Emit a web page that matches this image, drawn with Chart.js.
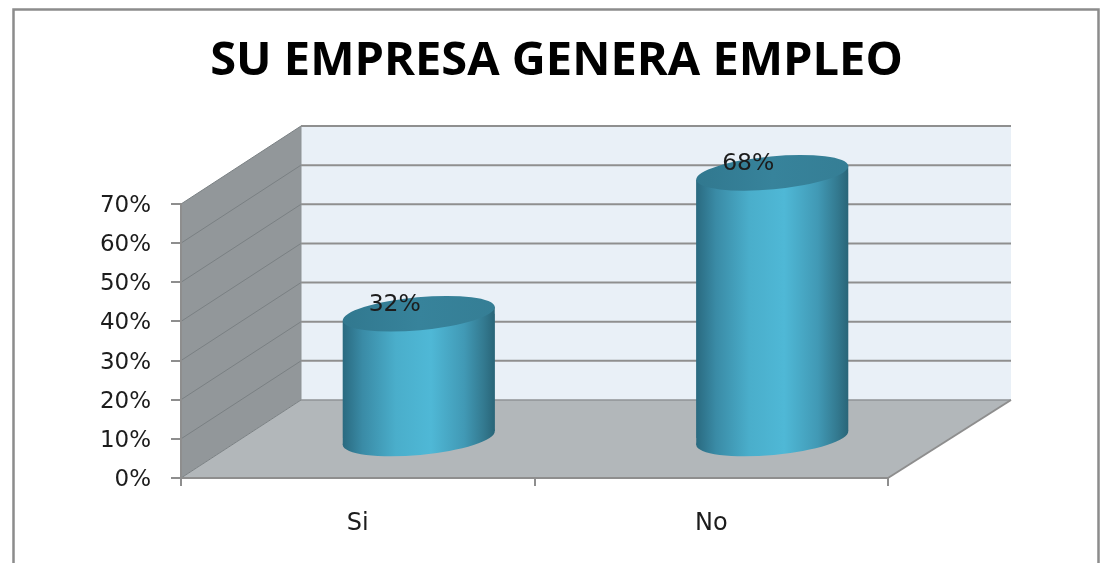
<!DOCTYPE html>
<html>
<head>
<meta charset="utf-8">
<style>html,body{margin:0;padding:0;background:#fff}#w{width:1103px;height:563px}</style>
<script src="https://cdn.jsdelivr.net/npm/chart.js@4"></script>
</head>
<body>
<div id="w"><canvas id="c" width="1103" height="563"></canvas></div>
<script>
const categories = ['Si', 'No'];
const values = [32, 68];
const chartTitle = 'SU EMPRESA GENERA EMPLEO';

const DEPTH_X = 120, DEPTH_X_R = 123, DEPTH_Y = -78;   // 3D box depth
const BAR_DX = 61, BAR_DY = -39;                       // cylinders sit mid-depth
const TILT = Math.atan2(14, 152);
const SEMI_B = 16.5;
const FONT = '"DejaVu Sans"';

function bodyGradient(ctx, x, w) {
  const g = ctx.createLinearGradient(x - w / 2, 0, x + w / 2, 0);
  g.addColorStop(0, '#2a6a80');
  g.addColorStop(0.13, '#3a8ba6');
  g.addColorStop(0.35, '#4aaecb');
  g.addColorStop(0.58, '#4fb8d6');
  g.addColorStop(0.8, '#4199b5');
  g.addColorStop(0.93, '#33798f');
  g.addColorStop(1, '#296578');
  return g;
}
function ellipse(ctx, x, y, w, b) {
  ctx.beginPath();
  ctx.ellipse(x, y, (w / 2) / Math.cos(TILT), b, -TILT, 0, Math.PI * 2);
}
function poly(ctx, pts, fill) {
  ctx.beginPath();
  pts.forEach((p, i) => i ? ctx.lineTo(p[0], p[1]) : ctx.moveTo(p[0], p[1]));
  ctx.closePath();
  ctx.fillStyle = fill;
  ctx.fill();
}
function line(ctx, x1, y1, x2, y2, color, w) {
  ctx.beginPath();
  ctx.moveTo(x1, y1);
  ctx.lineTo(x2, y2);
  ctx.strokeStyle = color;
  ctx.lineWidth = w;
  ctx.stroke();
}
function silhouette(ctx, b) {
  const l = b.x - b.width / 2, r = b.x + b.width / 2;
  const t = Math.tan(TILT) * b.width / 2;
  ctx.moveTo(l, b.y + t);
  ctx.lineTo(r, b.y - t);
  ctx.lineTo(r, b.base - t);
  ctx.lineTo(l, b.base + t);
  ctx.closePath();
}

const box3d = {
  id: 'box3d',
  beforeDraw(chart) {
    const { ctx, chartArea: a, scales: { y } } = chart;
    const dx = DEPTH_X, rx = DEPTH_X_R, dy = DEPTH_Y;
    ctx.save();
    // frame
    ctx.strokeStyle = '#8c8c8c';
    ctx.lineWidth = 2.5;
    ctx.beginPath();
    ctx.moveTo(13.5, 570);
    ctx.lineTo(13.5, 9.5);
    ctx.lineTo(1098.5, 9.5);
    ctx.lineTo(1098.5, 570);
    ctx.stroke();
    // back wall
    poly(ctx, [[a.left + dx, a.top + dy], [a.right + rx, a.top + dy], [a.right + rx, a.bottom + dy], [a.left + dx, a.bottom + dy]], '#e9f0f7');
    // side wall
    poly(ctx, [[a.left, a.top], [a.left + dx, a.top + dy], [a.left + dx, a.bottom + dy], [a.left, a.bottom]], '#92979a');
    // floor
    poly(ctx, [[a.left, a.bottom], [a.left + dx, a.bottom + dy], [a.right + rx, a.bottom + dy], [a.right, a.bottom]], '#b2b7ba');
    // grid on walls
    y.ticks.forEach(t => {
      const py = y.getPixelForValue(t.value);
      line(ctx, a.left, py, a.left + dx, py + dy, '#7a8083', 1);
      if (t.value > 0) line(ctx, a.left + dx, py + dy, a.right + rx, py + dy, '#8f8f8f', 2);
    });
    line(ctx, a.left + dx, a.bottom + dy, a.right + rx, a.bottom + dy, '#8f9396', 1.5);
    line(ctx, a.left + dx, a.top + dy, a.left + dx, a.bottom + dy, '#8f9396', 1);
    line(ctx, a.right, a.bottom, a.right + rx, a.bottom + dy, '#8e8e8e', 2);
    ctx.restore();
  },
  beforeDatasetDraw(chart, args) {
    const { ctx } = chart;
    const bars = chart.getDatasetMeta(args.index).data;
    ctx.save();
    ctx.translate(BAR_DX, BAR_DY);
    bars.forEach(b => {
      const g = bodyGradient(ctx, b.x, b.width);
      // rounded bottom
      ellipse(ctx, b.x, b.base, b.width, SEMI_B + 0.5);
      ctx.fillStyle = g;
      ctx.fill();
      // the wedges the tilted rim leaves outside the upright bar
      ctx.beginPath();
      silhouette(ctx, b);
      ctx.fillStyle = g;
      ctx.fill();
    });
    ctx.beginPath();
    bars.forEach(b => silhouette(ctx, b));
    ctx.clip();
  },
  afterDatasetDraw(chart, args) {
    const { ctx } = chart;
    ctx.restore();
    const bars = chart.getDatasetMeta(args.index).data;
    ctx.save();
    ctx.translate(BAR_DX, BAR_DY);
    bars.forEach(b => {
      ellipse(ctx, b.x, b.y, b.width, SEMI_B);
      const g = ctx.createLinearGradient(b.x - b.width / 2, 0, b.x + b.width / 2, 0);
      g.addColorStop(0, '#31788f');
      g.addColorStop(0.5, '#37839b');
      g.addColorStop(1, '#357e95');
      ctx.fillStyle = g;
      ctx.fill();
    });
    ctx.restore();
  },
  afterDatasetsDraw(chart) {
    const { ctx } = chart;
    const bars = chart.getDatasetMeta(0).data;
    ctx.save();
    ctx.font = '23.5px ' + FONT;
    ctx.fillStyle = '#1c1c1c';
    ctx.textAlign = 'center';
    ctx.textBaseline = 'middle';
    bars.forEach((b, i) => {
      ctx.fillText(values[i] + '%', b.x + BAR_DX - 24, b.y + BAR_DY - 9);
    });
    ctx.restore();
  }
};

new Chart(document.getElementById('c'), {
  type: 'bar',
  data: {
    labels: categories,
    datasets: [{
      data: values,
      clip: false,
      barPercentage: 0.43,
      categoryPercentage: 1,
      borderWidth: 0,
      backgroundColor(c) {
        const ch = c.chart;
        const sx = ch.scales.x;
        if (!sx || c.dataIndex === undefined) return '#4fb8d6';
        const x = sx.getPixelForValue(c.dataIndex);
        const w = sx.width / categories.length * 0.43;
        if (!Number.isFinite(x) || !(w > 0)) return '#4fb8d6';
        return bodyGradient(ch.ctx, x, w);
      }
    }]
  },
  options: {
    responsive: false,
    animation: false,
    layout: { padding: { left: 10, right: 0, top: 0, bottom: 0 } },
    plugins: {
      legend: { display: false },
      tooltip: { enabled: false },
      title: {
        display: true,
        text: chartTitle,
        color: '#000',
        font: { family: '"Open Sans"', size: 47, weight: 'bold', lineHeight: 1.2 },
        padding: { top: 33, bottom: 114.6 }
      }
    },
    scales: {
      x: {
        grid: { offset: true, drawOnChartArea: false, color: '#8e8e8e', lineWidth: 2, tickLength: 8 },
        border: { color: '#8e8e8e', width: 2 },
        ticks: { color: '#1c1c1c', font: { family: FONT, size: 24 }, padding: 23, maxRotation: 0 },
        afterFit(s) { s.height = 85; }
      },
      y: {
        min: 0,
        max: 70,
        grid: { drawOnChartArea: false, color: '#8e8e8e', lineWidth: 2, tickLength: 10 },
        border: { color: '#8e8e8e', width: 2 },
        ticks: {
          stepSize: 10,
          color: '#1c1c1c',
          font: { family: FONT, size: 23 },
          padding: 20,
          labelOffset: 2,
          callback: v => v + '%'
        },
        afterFit(s) { s.width = 171; }
      },
      yRight: {
        position: 'right',
        display: true,
        grid: { display: false },
        border: { display: false },
        ticks: { display: false },
        afterFit(s) { s.width = 215; }
      }
    }
  },
  plugins: [box3d]
});
</script>
</body>
</html>
